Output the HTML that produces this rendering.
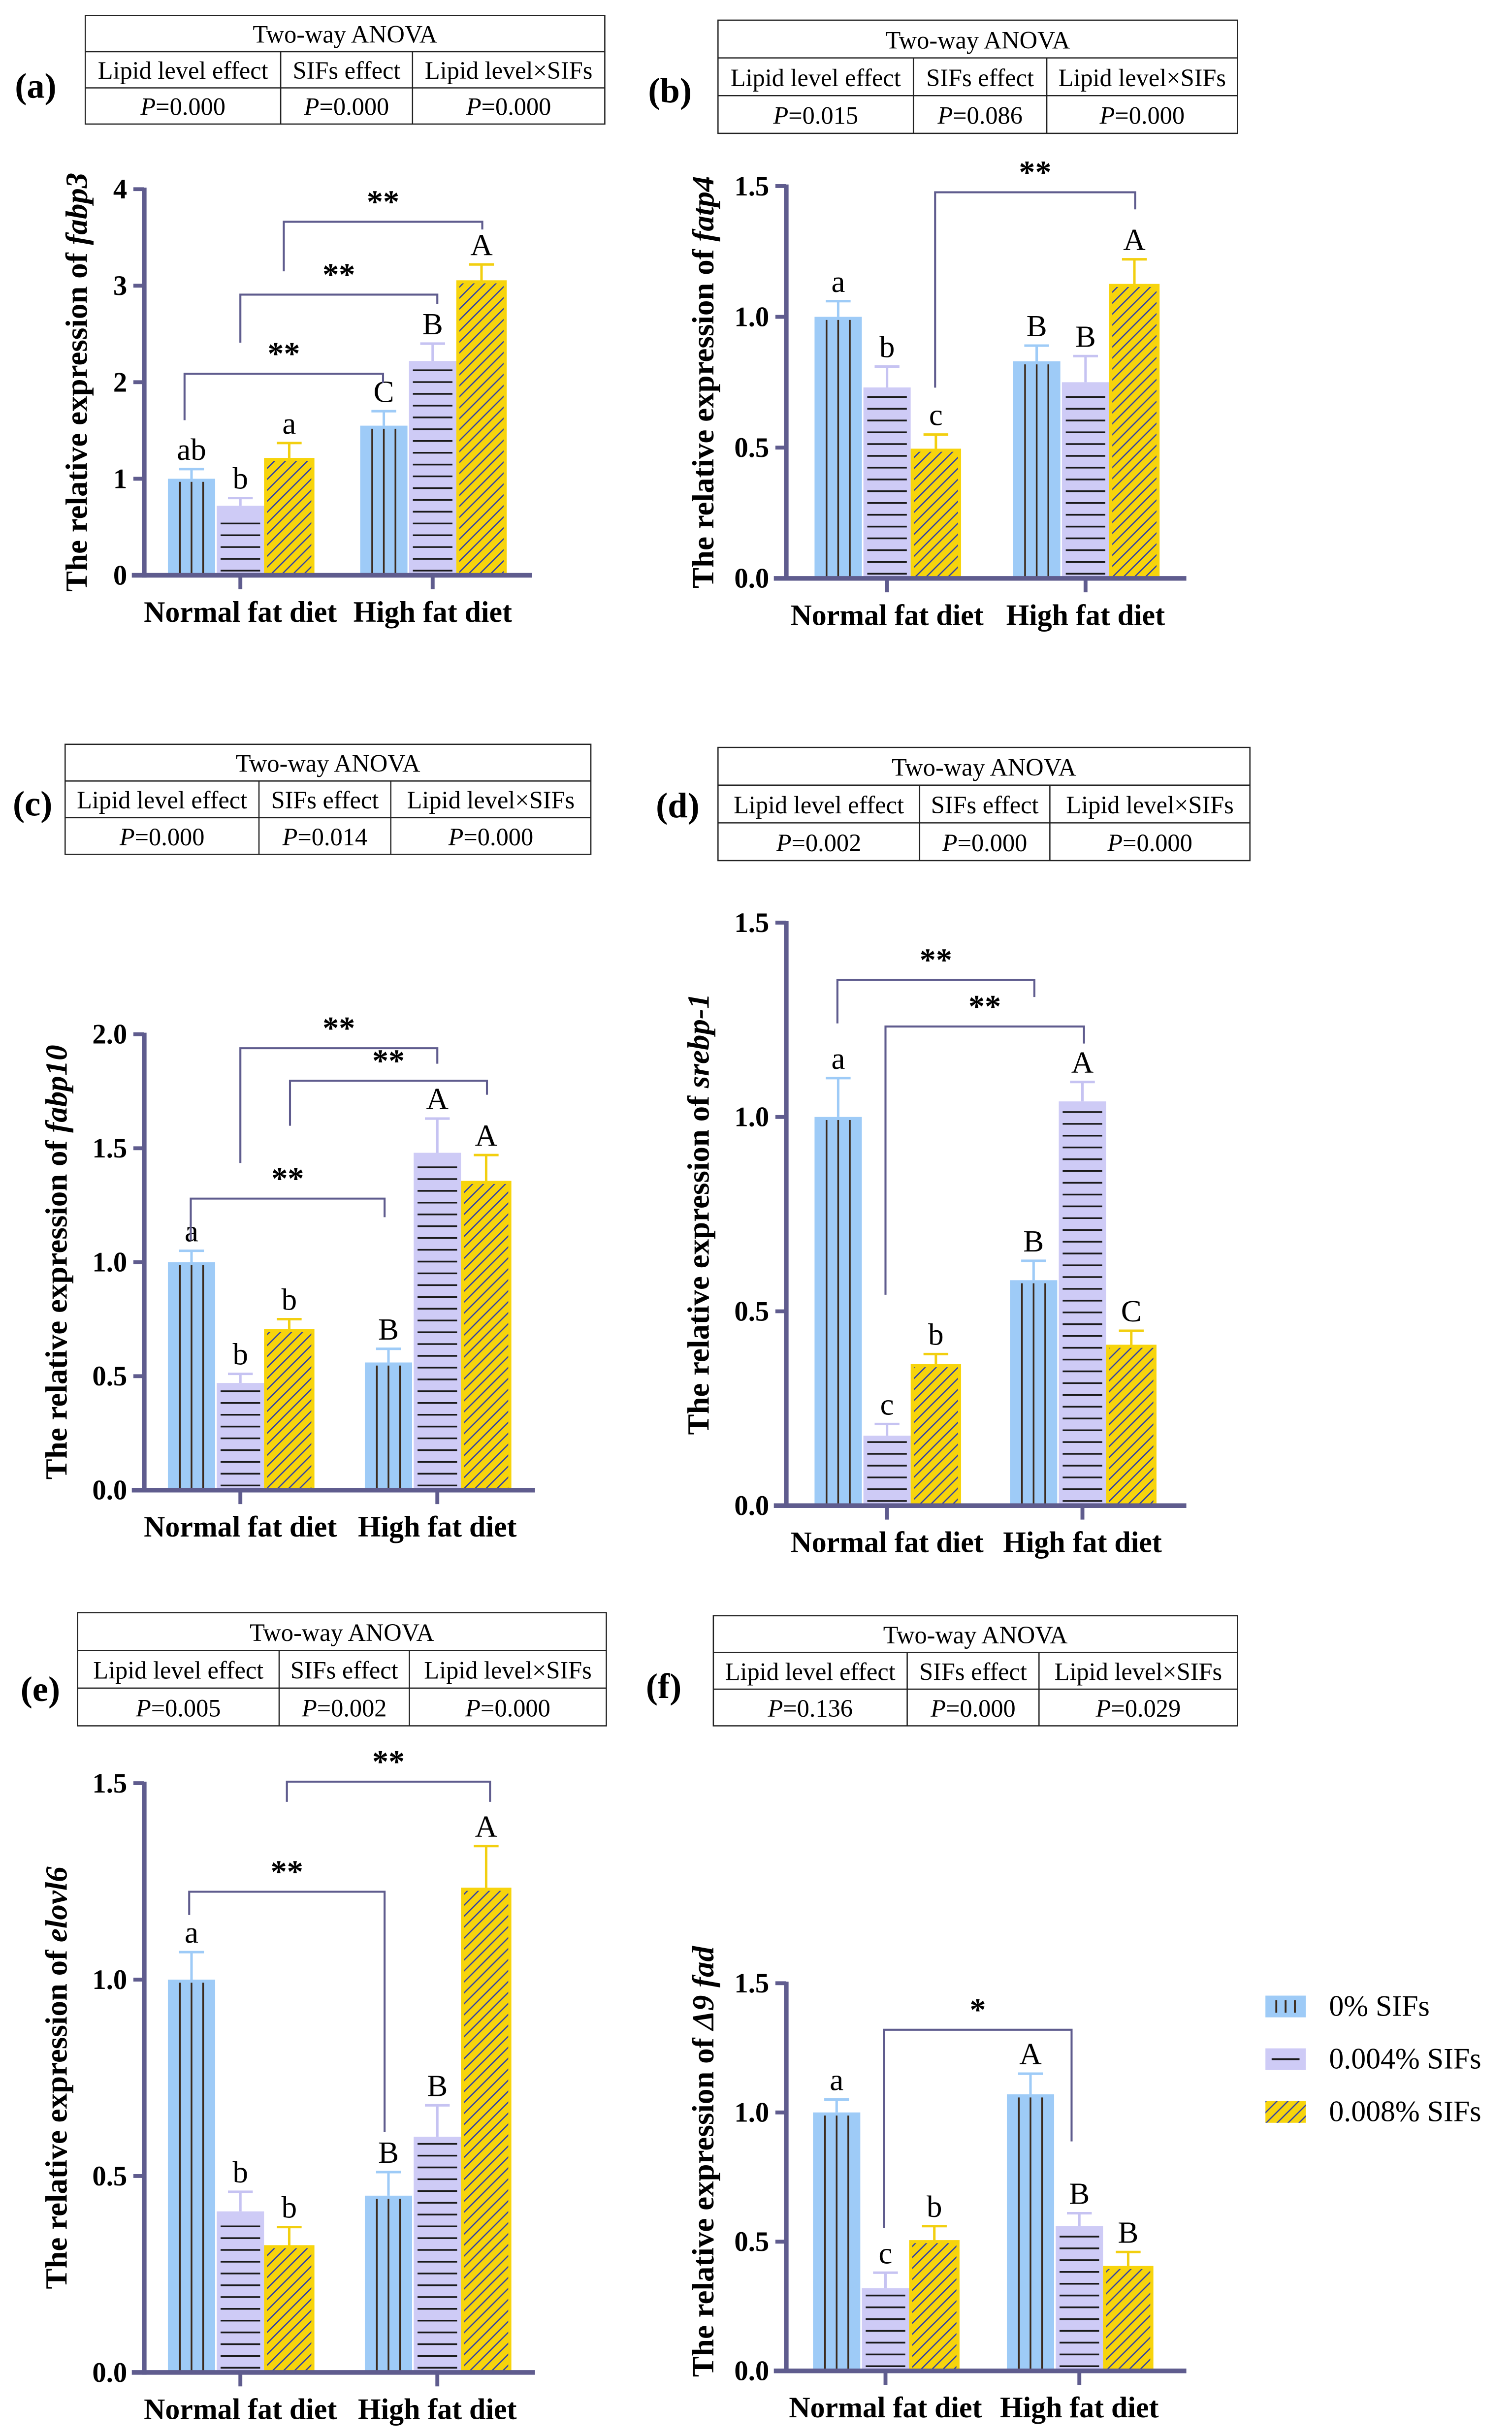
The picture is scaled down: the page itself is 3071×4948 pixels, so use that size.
<!DOCTYPE html>
<html><head><meta charset="utf-8">
<style>
html,body{margin:0;padding:0;background:#fff;}
svg{display:block;}
svg text{font-family:"Liberation Serif","Times New Roman",Times,serif;}
</style></head>
<body>
<svg id="fig" width="3071" height="4948" viewBox="0 0 975 1571" preserveAspectRatio="none" font-family="Liberation Serif, Times New Roman, serif" xmlns="http://www.w3.org/2000/svg">
<defs>
<pattern id="hatch" patternUnits="userSpaceOnUse" width="5" height="5" patternTransform="rotate(45)">
<rect width="5" height="5" fill="#f7d40c"/>
<line x1="0" y1="0" x2="0" y2="5" stroke="#2f3fa8" stroke-width="1.6"/>
</pattern>
</defs>
</svg>
<script>
const categories=["Normal fat diet","High fat diet"];
const seriesNames=["0% SIFs","0.004% SIFs","0.008% SIFs"];
// values [group][series]
const fabp3Values=[[1.0,0.72,1.2],[1.55,2.22,3.04]];
const fabp3Errors=[[0.1,0.08,0.17],[0.15,0.18,0.18]];
const fabp3Letters=[["ab","b","a"],["C","B","A"]];
const fabp3Ticks=[0,1,2,3,4];
const fatp4Values=[[1.0,0.73,0.49],[0.83,0.75,1.12]];
const fatp4Errors=[[0.06,0.08,0.06],[0.06,0.1,0.1]];
const fatp4Letters=[["a","b","c"],["B","B","A"]];
const fatp4Ticks=[0,0.5,1.0,1.5];
const fabp10Values=[[1.0,0.47,0.7],[0.56,1.48,1.35]];
const fabp10Errors=[[0.05,0.04,0.05],[0.06,0.15,0.12]];
const fabp10Letters=[["a","b","b"],["B","A","A"]];
const fabp10Ticks=[0,0.5,1.0,1.5,2.0];
const srebpValues=[[1.0,0.18,0.36],[0.58,1.04,0.41]];
const srebpErrors=[[0.1,0.03,0.03],[0.05,0.05,0.04]];
const srebpLetters=[["a","c","b"],["B","A","C"]];
const srebpTicks=[0,0.5,1.0,1.5];
const elovlValues=[[1.0,0.41,0.32],[0.45,0.6,1.23]];
const elovlErrors=[[0.07,0.05,0.05],[0.06,0.08,0.11]];
const elovlLetters=[["a","b","b"],["B","B","A"]];
const elovlTicks=[0,0.5,1.0,1.5];
const fadValues=[[1.0,0.32,0.5],[1.07,0.56,0.4]];
const fadErrors=[[0.05,0.06,0.06],[0.08,0.05,0.06]];
const fadLetters=[["a","c","b"],["A","B","B"]];
const fadTicks=[0,0.5,1.0,1.5];
const pFabp3=["0.000","0.000","0.000"];
const pFatp4=["0.015","0.086","0.000"];
const pFabp10=["0.000","0.014","0.000"];
const pSrebp=["0.002","0.000","0.000"];
const pElovl=["0.005","0.002","0.000"];
const pFad=["0.136","0.000","0.029"];

const NS="http://www.w3.org/2000/svg";
const svg=document.getElementById('fig');
const AX="#5f5c8e";
const FF="Liberation Serif, Times New Roman, serif";
const fills=["#9ecbf7","#cecbf6","url(#hatch)"];
const errCol=["#9ecbf7","#c6c3f2","#f2cf10"];
function mk(tag,attrs,parent){const e=document.createElementNS(NS,tag);for(const k in attrs)e.setAttribute(k,attrs[k]);(parent||svg).appendChild(e);return e;}
function txt(s,x,y,size,attrs,parent){const t=mk('text',Object.assign({x:x,y:y,'font-size':size,'text-anchor':'middle','font-family':FF},attrs||{}),parent);t.textContent=s;return t;}

function table(g,x0,y0,x1,y1,d1,d2,pv,label,lx,ly){
  const r1=y0+(y1-y0)/3, r2=y0+2*(y1-y0)/3;
  const t=mk('g',{},g);
  
  
  mk('rect',{x:x0,y:y0,width:x1-x0,height:y1-y0,fill:'none',stroke:'#222','stroke-width':0.8},t);
  mk('line',{x1:x0,y1:r1,x2:x1,y2:r1,stroke:'#222','stroke-width':0.8},t);
  mk('line',{x1:x0,y1:r2,x2:x1,y2:r2,stroke:'#222','stroke-width':0.8},t);
  mk('line',{x1:d1,y1:r1,x2:d1,y2:y1,stroke:'#222','stroke-width':0.8},t);
  mk('line',{x1:d2,y1:r1,x2:d2,y2:y1,stroke:'#222','stroke-width':0.8},t);
  const h=(y1-y0)/3;
  txt('Two-way ANOVA',(x0+x1)/2,y0+h*0.75,16,{},t);
  const cx=[(x0+d1)/2,(d1+d2)/2,(d2+x1)/2];
  const heads=['Lipid level effect','SIFs effect','Lipid level×SIFs'];
  for(let i=0;i<3;i++){
    txt(heads[i],cx[i],r1+h*0.75,16,{},t);
    const p=txt('',cx[i],r2+h*0.75,16,{},t);
    const ps=mk('tspan',{'font-style':'italic'},p);ps.textContent='P';
    const v=mk('tspan',{},p);v.textContent='=0.'+pv[i].slice(2);
  }
  const l=txt(label,lx,ly,23,{'font-weight':'bold'},g);
  
  
}

function chart(cfg){
  const g=mk('g',{});
  
  
  table(g,...cfg.table,cfg.p,cfg.label,cfg.lx,cfg.ly);
  const ax=cfg.ax, y0=cfg.y0, yTop=cfg.yTop, ymax=cfg.ticks[cfg.ticks.length-1];
  const yS=v=>y0-(v/ymax)*(y0-yTop);
  const bw=31.5;
  const xS=(gi,si)=>cfg.centers[gi]+(si-1)*bw-bw/2;
  for(let gi=0;gi<2;gi++)for(let si=0;si<3;si++){
    const v=cfg.vals[gi][si], e=cfg.errs[gi][si];
    const x=xS(gi,si), y=yS(v), h=y0-y;
    const err=mk('line',{x1:x+bw/2,y1:y,x2:x+bw/2,y2:yS(v+e),stroke:errCol[si],'stroke-width':1.6},g);
    
    
    mk('line',{x1:x+bw/2-8,y1:yS(v+e),x2:x+bw/2+8,y2:yS(v+e),stroke:errCol[si],'stroke-width':1.6},g);
    const r=mk('rect',{x:x+0.5,y:y,width:bw-1,height:h,fill:fills[si],stroke:si==2?'#f7d40c':'none','stroke-width':si==2?2:0},g);
    
    
    if(si==0){for(let k=-1;k<=1;k++)mk('line',{x1:x+bw/2+k*7.5,y1:y+2,x2:x+bw/2+k*7.5,y2:y0,stroke:'#3b2a1c','stroke-width':1.1},g);}
    if(si==1){for(let yy=y0-3;yy>y+4;yy-=7.6)mk('line',{x1:x+3,y1:yy,x2:x+bw-3,y2:yy,stroke:'#1a1a1a','stroke-width':1.1},g);}
    const lt=txt(cfg.letters[gi][si],x+bw/2,yS(v+e)-6,20,{},g);
    
    
  }
  const ya=mk('line',{x1:ax,y1:yTop-1,x2:ax,y2:y0+1.5,stroke:AX,'stroke-width':3},g);
  
  const xa=mk('line',{x1:ax-8,y1:y0,x2:cfg.xEnd,y2:y0,stroke:AX,'stroke-width':3},g);
  
  for(const t of cfg.ticks){
    mk('line',{x1:ax-7,y1:yS(t),x2:ax,y2:yS(t),stroke:AX,'stroke-width':2.5},g);
    const tl=txt(cfg.dec?t.toFixed(1):String(t),ax-11,yS(t)+6,18,{'font-weight':'bold','text-anchor':'end'},g);
    
  }
  for(let gi=0;gi<2;gi++){
    mk('line',{x1:cfg.centers[gi],y1:y0,x2:cfg.centers[gi],y2:y0+9,stroke:AX,'stroke-width':2.5},g);
    const xl=txt(categories[gi],cfg.centers[gi],y0+30,19,{'font-weight':'bold'},g);
    
  }
  const yl=txt('',0,0,20,{'font-weight':'bold',transform:`translate(${cfg.ylx},${(yTop+y0)/2+cfg.yld}) rotate(-90)`},g);
  
  const a=mk('tspan',{},yl);a.textContent='The relative expression of ';
  const b=mk('tspan',{'font-style':'italic'},yl);b.textContent=cfg.gene;
  for(const br of cfg.brackets){
    const [xl1,yb1,xr,yb2,ytop,star]=br;
    const p=mk('path',{d:`M${xl1},${yb1}V${ytop}H${xr}V${yb2}`,fill:'none',stroke:AX,'stroke-width':1.3},g);
    
    const s=txt(star,(xl1+xr)/2,ytop-6,21,{'font-weight':'bold'},g);
    
  }
}

chart({name:'panel-a-fabp3',table:[55,10,390,80,181,266],p:pFabp3,label:'(a)',lx:23,ly:63,ax:93,y0:371,yTop:122,xEnd:343,
 ticks:fabp3Ticks,dec:false,centers:[155,279],vals:fabp3Values,errs:fabp3Errors,letters:fabp3Letters,gene:'fabp3',ylx:56,yld:0,
 brackets:[[119,271,247,247,241,'**'],[155,221,282,196,190,'**'],[183,175,311,148,143,'**']]});
chart({name:'panel-b-fatp4',table:[463,13,798,86,589,675],p:pFatp4,label:'(b)',lx:432,ly:66,ax:507,y0:373,yTop:120,xEnd:765,
 ticks:fatp4Ticks,dec:true,centers:[572,700],vals:fatp4Values,errs:fatp4Errors,letters:fatp4Letters,gene:'fatp4',ylx:460,yld:0,
 brackets:[[603,250,732,135,124,'**']]});
chart({name:'panel-c-fabp10',table:[42,480,381,551,167,252],p:pFabp10,label:'(c)',lx:21,ly:526,ax:93,y0:961,yTop:667,xEnd:345,
 ticks:fabp10Ticks,dec:true,centers:[155,282],vals:fabp10Values,errs:fabp10Errors,letters:fabp10Letters,gene:'fabp10',ylx:43,yld:0,
 brackets:[[123,800,248,785,773,'**'],[155,750,282,686,676,'**'],[187,726,314,706,697,'**']]});
chart({name:'panel-d-srebp1',table:[463,482,806,555,593,677],p:pSrebp,label:'(d)',lx:437,ly:527,ax:507,y0:971,yTop:595,xEnd:765,
 ticks:srebpTicks,dec:true,centers:[572,698],vals:srebpValues,errs:srebpErrors,letters:srebpLetters,gene:'srebp-1',ylx:457,yld:0,
 brackets:[[540,660,667,643,632,'**'],[571,835,699,673,662,'**']]});
chart({name:'panel-e-elovl6',table:[50,1040,391,1113,180,264],p:pElovl,label:'(e)',lx:26,ly:1097,ax:93,y0:1530,yTop:1150,xEnd:345,
 ticks:elovlTicks,dec:true,centers:[155,282],vals:elovlValues,errs:elovlErrors,letters:elovlLetters,gene:'elovl6',ylx:43,yld:0,
 brackets:[[122,1235,248,1375,1220,'**'],[185,1162,316,1162,1149,'**']]});
chart({name:'panel-f-d9fad',table:[460,1042,798,1113,585,670],p:pFad,label:'(f)',lx:428,ly:1095,ax:507,y0:1529,yTop:1279,xEnd:765,
 ticks:fadTicks,dec:true,centers:[571,696],vals:fadValues,errs:fadErrors,letters:fadLetters,gene:'Δ9 fad',ylx:460,yld:-10,
 brackets:[[570,1437,691,1381,1309,'*']]});

const lg=mk('g',{});


const ly=[1294,1328,1362];
for(let i=0;i<3;i++){
  const e=mk('g',{},lg);
  
  
  mk('rect',{x:816,y:ly[i]-7,width:26,height:14,fill:fills[i]},e);
  if(i==0){for(const dx of [7,13,19])mk('line',{x1:816+dx,y1:ly[i]-4,x2:816+dx,y2:ly[i]+4,stroke:'#3b2a1c','stroke-width':1.2},e);}
  if(i==1)mk('line',{x1:820,y1:ly[i],x2:838,y2:ly[i],stroke:'#1a1a1a','stroke-width':1.2},e);
  txt(seriesNames[i],857,ly[i]+6,19,{'text-anchor':'start'},e);
}
</script>
</body></html>
